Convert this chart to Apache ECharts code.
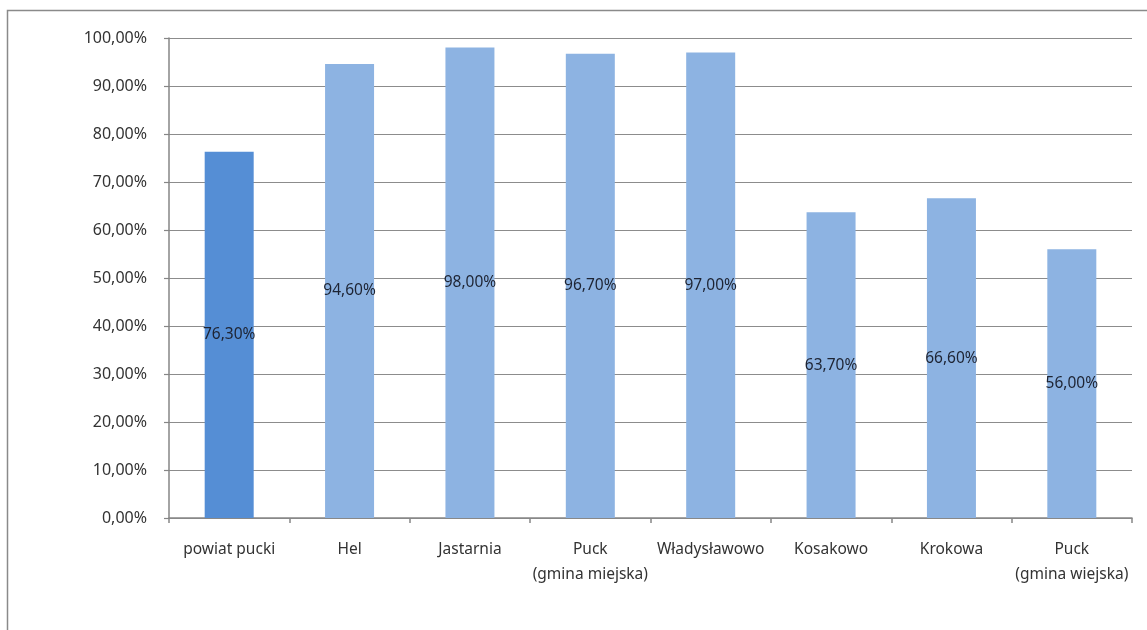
<!DOCTYPE html>
<html>
<head>
<meta charset="utf-8">
<script src="https://cdn.jsdelivr.net/npm/echarts@6/dist/echarts.min.js"></script>
<style>
html,body{margin:0;padding:0;background:#fff;}
#c{width:1147px;height:630px;}
</style>
</head>
<body>
<div id="c"></div>
<script>
const categories = ['powiat pucki', 'Hel', 'Jastarnia', 'Puck\n(gmina miejska)', 'Władysławowo', 'Kosakowo', 'Krokowa', 'Puck\n(gmina wiejska)'];
const values = [76.30, 94.60, 98.00, 96.70, 97.00, 63.70, 66.60, 56.00];
const yTicks = [0, 10, 20, 30, 40, 50, 60, 70, 80, 90, 100];

const fmt = v => v.toFixed(2).replace('.', ',') + '%';
const font = '"Noto Sans", "DejaVu Sans", sans-serif';

const chart = echarts.init(document.getElementById('c'));
chart.setOption({
  animation: false,
  backgroundColor: '#ffffff',
  graphic: [{
    type: 'rect',
    shape: { x: 7.5, y: 10.5, width: 1300, height: 800 },
    style: { fill: 'none', stroke: '#8a8a8a', lineWidth: 1.5 },
    silent: true
  }],
  grid: { left: 169, right: 15, top: 38, bottom: 112, containLabel: false },
  xAxis: {
    type: 'category',
    data: categories,
    axisLine: { lineStyle: { color: '#868686', width: 1.5 } },
    axisTick: { show: true, length: 5, alignWithLabel: false, lineStyle: { color: '#868686', width: 1.5 } },
    axisLabel: { color: '#333', fontFamily: font, fontSize: 15.5, margin: 19, lineHeight: 25, interval: 0 }
  },
  yAxis: {
    type: 'value',
    min: yTicks[0],
    max: yTicks[yTicks.length - 1],
    interval: 10,
    axisLine: { show: true, lineStyle: { color: '#868686', width: 1.5 } },
    axisTick: { show: true, length: 5, lineStyle: { color: '#868686', width: 1.2 } },
    splitLine: { lineStyle: { color: '#8c8c8c', width: 1.2 } },
    axisLabel: { color: '#333', fontFamily: font, fontSize: 16, margin: 22, formatter: v => fmt(v) }
  },
  series: [{
    type: 'bar',
    data: values.map((v, i) => ({ value: v, itemStyle: { color: i === 0 ? '#558ed5' : '#8db3e2' } })),
    barWidth: 49,
    label: {
      show: true,
      position: 'inside',
      color: '#1e2433',
      fontFamily: font,
      fontSize: 15.5,
      formatter: p => fmt(p.value)
    }
  }]
});
</script>
</body>
</html>
